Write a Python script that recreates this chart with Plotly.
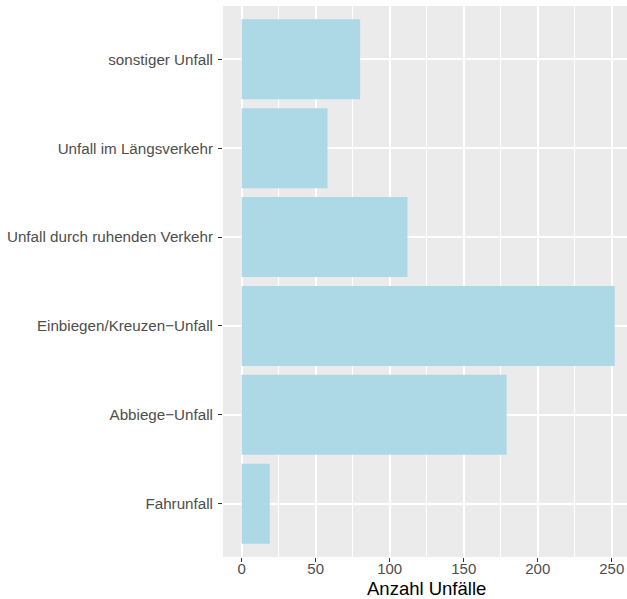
import plotly.graph_objects as go

categories = [
    "Fahrunfall",
    "Abbiege\u2212Unfall",
    "Einbiegen/Kreuzen\u2212Unfall",
    "Unfall durch ruhenden Verkehr",
    "Unfall im Längsverkehr",
    "sonstiger Unfall",
]
counts = [19, 179, 252, 112, 58, 80]
x_ticks = [0, 50, 100, 150, 200, 250]
x_title = "Anzahl Unfälle"

fig = go.Figure()
fig.add_trace(go.Bar(
    x=counts,
    y=categories,
    orientation="h",
    width=0.9,
    marker=dict(color="#ADD8E6", line=dict(width=0)),
    hoverinfo="x+y",
))

fig.update_layout(
    width=627,
    height=599,
    margin=dict(l=223, r=0, t=6, b=42),
    paper_bgcolor="white",
    plot_bgcolor="#EBEBEB",
    showlegend=False,
    font=dict(family="Liberation Sans, Arial, sans-serif", color="#4D4D4D", size=15),
    xaxis=dict(
        range=[-12.6, 260.3],
        tickvals=x_ticks,
        ticktext=[str(v) for v in x_ticks],
        showgrid=True,
        gridcolor="white",
        gridwidth=2,
        zeroline=False,
        showline=False,
        ticks="outside",
        ticklen=4,
        tickwidth=1,
        tickcolor="#333333",
        tickfont=dict(size=15, color="#4D4D4D"),
        ticklabelstandoff=-6,
        minor=dict(tick0=25, dtick=50, showgrid=True, gridcolor="white", gridwidth=1),
        automargin=False,
    ),
    yaxis=dict(
        categoryorder="array",
        categoryarray=categories,
        range=[-0.6, 5.6],
        showgrid=True,
        gridcolor="white",
        gridwidth=2,
        zeroline=False,
        showline=False,
        ticks="outside",
        ticklen=4,
        tickwidth=1,
        tickcolor="#333333",
        tickfont=dict(size=15.2, color="#4D4D4D"),
        ticklabelstandoff=2,
        automargin=False,
    ),
    bargap=0.1,
    annotations=[dict(
        text=x_title,
        xref="x", x=125, yref="paper", y=0,
        xanchor="center", yanchor="top", yshift=-19,
        showarrow=False,
        font=dict(size=18.5, color="black", family="Liberation Sans, Arial, sans-serif"),
    )],
)

fig.write_html(
    "out.html",
    config={"displayModeBar": False},
    post_script="document.body.style.margin='0';document.body.style.overflow='hidden';",
)
